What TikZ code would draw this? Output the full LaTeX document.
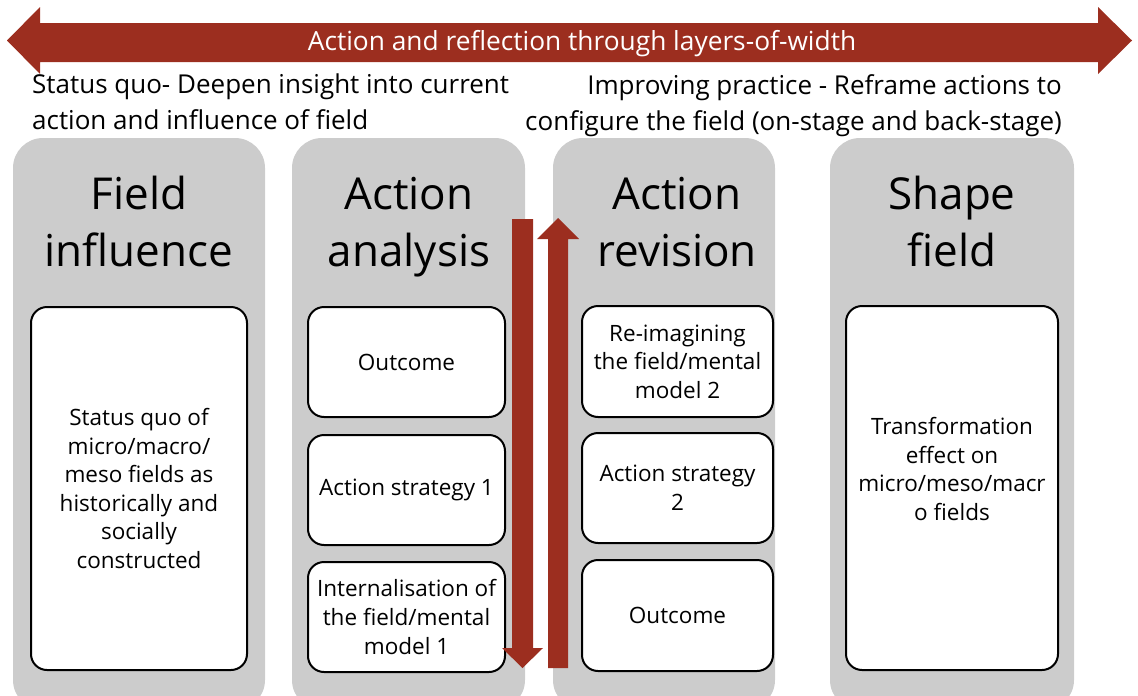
\documentclass[tikz,border=0pt]{standalone}
\usepackage{fontspec}
\setmainfont{Open Sans}
\usetikzlibrary{positioning}
\definecolor{arrowred}{RGB}{156,46,31}
\definecolor{colgray}{RGB}{204,204,204}

\begin{document}
\begin{tikzpicture}[x=1pt,y=-1pt,
  column/.style={fill=colgray,rounded corners=30pt,inner sep=0pt},
  itembox/.style={draw=black,line width=2pt,fill=white,rounded corners=16pt,
    inner sep=0pt,align=center,font=\fontsize{22.5}{28.6}\selectfont},
  coltitle/.style={align=center,inner sep=0pt,font=\fontsize{44}{57}\selectfont},
  headtext/.style={inner sep=0pt,font=\fontsize{26}{36}\selectfont}]
  \useasboundingbox (0,0) rectangle (1138,696);

  % big double arrow on top
  \fill[arrowred] (7,40.5) -- (40,7) -- (40,23) -- (1098,23) -- (1098,7)
    -- (1132,40.5) -- (1098,74) -- (1098,62) -- (40,62) -- (40,74) -- cycle;
  \node[text=white,font=\fontsize{26.3}{32}\selectfont] (layers) at (582,44)
    {Action and reflection through layers-of-width};

  \node[headtext,anchor=north west,align=left] (statusquo) at (32,74)
    {Status quo- Deepen insight into current\\action and influence of field};
  \node[headtext,anchor=north east,align=right] (improving) at (1062,74)
    {Improving practice - Reframe actions to\\configure the field (on-stage and back-stage)};

  % grey columns
  \path (13,138) coordinate (c1a) (265,710) coordinate (c1b)
        (292,138) coordinate (c2a) (525,710) coordinate (c2b)
        (553,138) coordinate (c3a) (775,710) coordinate (c3b)
        (830,138) coordinate (c4a) (1074,710) coordinate (c4b);
  \foreach \i in {1,...,4}
    \fill[colgray,rounded corners=30pt] (c\i a) rectangle (c\i b);

  \node[coltitle] (t1) at (139,227) {Field\strut\\influence\strut};
  \node[coltitle] (t2) at (409,227) {Action\strut\\analysis\strut};
  \node[coltitle] (t3) at (677,227) {Action\strut\\revision\strut};
  \node[coltitle] (t4) at (952,227) {Shape\strut\\field\strut};

  % boxes
  \node[itembox,minimum width=216pt,minimum height=363pt] (fieldbox) at (139,488.5)
    {Status quo of\\micro/macro/\\meso fields as\\historically and\\socially\\constructed};

  \node[itembox,minimum width=197pt,minimum height=110pt] (outcome1) at (406.5,362) {Outcome};
  \node[itembox,minimum width=197pt,minimum height=110pt] (strategy1) at (406.5,490) {Action strategy 1};
  \node[itembox,minimum width=197pt,minimum height=110pt] (model1) at (406.5,617)
    {Internalisation of\\the field/mental\\model 1};

  \node[itembox,minimum width=191pt,minimum height=111pt] (model2) at (677.5,361.5)
    {Re-imagining\\the field/mental\\model 2};
  \node[itembox,minimum width=191pt,minimum height=110pt] (strategy2) at (677.5,488) {Action strategy\\2};
  \node[itembox,minimum width=191pt,minimum height=111pt] (outcome2) at (677.5,615.5) {Outcome};

  \node[itembox,minimum width=212pt,minimum height=364pt] (shapebox) at (952,488) {};
  \node[align=center,font=\fontsize{22.5}{28.6}\selectfont] (shapetext) at (952,469)
    {Transformation\\effect on\\micro/meso/macr\\o fields};

  % down and up arrows between the middle columns
  \fill[arrowred] (512,219) -- (533,219) -- (533,648) -- (543,648) -- (522.5,668)
    -- (502,648) -- (512,648) -- cycle;
  \fill[arrowred] (548,668) -- (568,668) -- (568,239) -- (579,239) -- (558,218)
    -- (537,239) -- (548,239) -- cycle;
\end{tikzpicture}
\end{document}
